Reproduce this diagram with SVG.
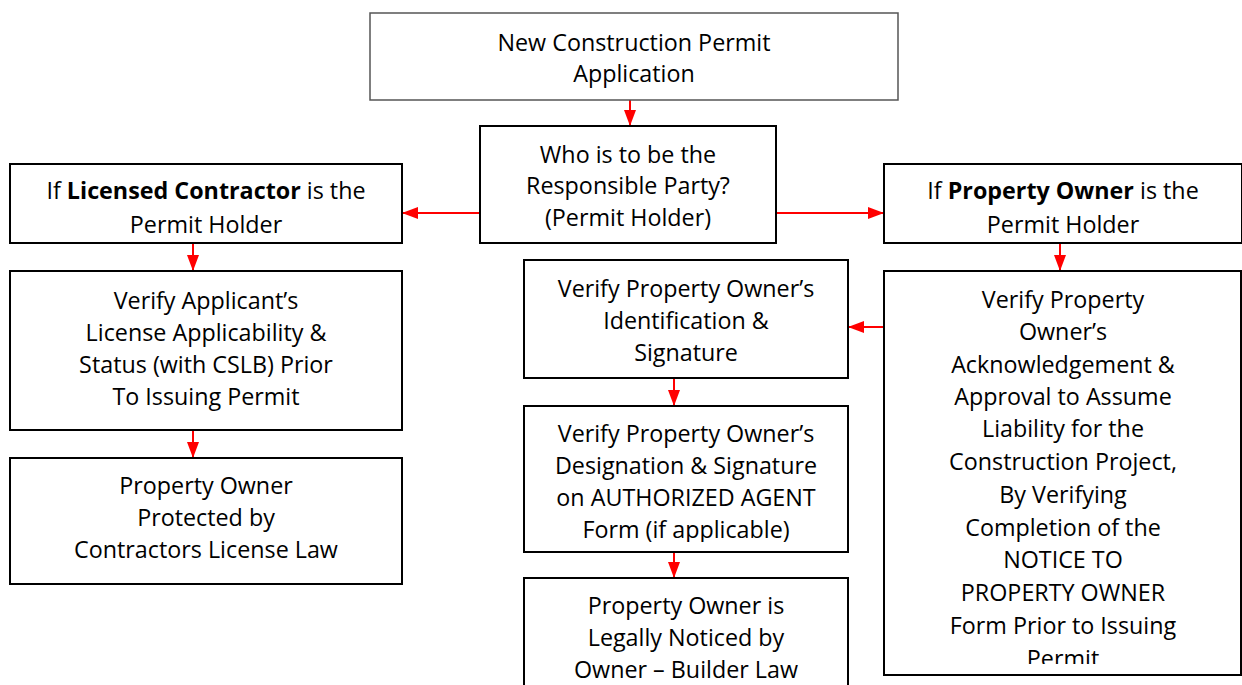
<svg xmlns="http://www.w3.org/2000/svg" width="1242" height="685" viewBox="0 0 1242 685">
<style>
.box{fill:#fff;stroke:#000;stroke-width:2}
.t{font-family:"Open Sans","Liberation Sans",sans-serif;font-size:23.3px;fill:#000;text-anchor:middle}
.b{font-weight:bold}
.c{stroke:#f00;stroke-width:2;fill:none}
</style>
<defs>
<marker id="ah2" markerWidth="16" markerHeight="12" refX="16" refY="6" orient="auto" markerUnits="userSpaceOnUse" viewBox="0 0 16 12">
<path d="M0,0 L16,6 L0,12 z" fill="#f00"/>
</marker>
<clipPath id="clipM4"><rect x="524" y="406" width="324" height="136"/></clipPath>
<clipPath id="clipR2"><rect x="884" y="271" width="358" height="393"/></clipPath>
</defs>
<g id="connectors">
<line class="c" x1="630" y1="100" x2="630" y2="126" marker-end="url(#ah2)"/>
<line class="c" x1="480" y1="213" x2="402" y2="213" marker-end="url(#ah2)"/>
<line class="c" x1="776" y1="213" x2="884" y2="213" marker-end="url(#ah2)"/>
<line class="c" x1="193" y1="243" x2="193" y2="271" marker-end="url(#ah2)"/>
<line class="c" x1="193" y1="430" x2="193" y2="458" marker-end="url(#ah2)"/>
<line class="c" x1="1060" y1="243" x2="1060" y2="271" marker-end="url(#ah2)"/>
<line class="c" x1="884" y1="327" x2="848" y2="327" marker-end="url(#ah2)"/>
<line class="c" x1="674" y1="378" x2="674" y2="406" marker-end="url(#ah2)"/>
<line class="c" x1="674" y1="552" x2="674" y2="578" marker-end="url(#ah2)"/>
</g>
<g id="n1">
<rect class="box" x="370" y="13" width="528" height="87" style="stroke:#555;stroke-width:1.5"/>
<text class="t" x="634" y="51">New Construction Permit</text>
<text class="t" x="634" y="82">Application</text>
</g>
<g id="n2">
<rect class="box" x="480" y="126" width="296" height="117"/>
<text class="t" x="628" y="163">Who is to be the</text>
<text class="t" x="628" y="194">Responsible Party?</text>
<text class="t" x="628" y="226">(Permit Holder)</text>
</g>
<g id="n3">
<rect class="box" x="10" y="164" width="392" height="79"/>
<text class="t" x="206" y="199">If <tspan class="b">Licensed Contractor</tspan> is the</text>
<text class="t" x="206" y="233">Permit Holder</text>
</g>
<g id="n4">
<rect class="box" x="884" y="164" width="358" height="79"/>
<text class="t" x="1063" y="199">If <tspan class="b">Property Owner</tspan> is the</text>
<text class="t" x="1063" y="233">Permit Holder</text>
</g>
<g id="n5">
<rect class="box" x="10" y="271" width="392" height="159"/>
<text class="t" x="206" y="309">Verify Applicant’s</text>
<text class="t" x="206" y="341">License Applicability &amp;</text>
<text class="t" x="206" y="373">Status (with CSLB) Prior</text>
<text class="t" x="206" y="405">To Issuing Permit</text>
</g>
<g id="n6">
<rect class="box" x="10" y="458" width="392" height="126"/>
<text class="t" x="206" y="494">Property Owner</text>
<text class="t" x="206" y="526">Protected by</text>
<text class="t" x="206" y="558">Contractors License Law</text>
</g>
<g id="n7">
<rect class="box" x="524" y="260" width="324" height="118"/>
<text class="t" x="686" y="297">Verify Property Owner’s</text>
<text class="t" x="686" y="329">Identification &amp;</text>
<text class="t" x="686" y="361">Signature</text>
</g>
<g id="n8">
<rect class="box" x="524" y="406" width="324" height="146"/>
<g clip-path="url(#clipM4)">
<text class="t" x="686" y="442">Verify Property Owner’s</text>
<text class="t" x="686" y="474">Designation &amp; Signature</text>
<text class="t" x="686" y="506">on AUTHORIZED AGENT</text>
<text class="t" x="686" y="538">Form (if applicable)</text>
</g>
</g>
<g id="n9">
<rect class="box" x="524" y="578" width="324" height="120"/>
<text class="t" x="686" y="614">Property Owner is</text>
<text class="t" x="686" y="646">Legally Noticed by</text>
<text class="t" x="686" y="678">Owner – Builder Law</text>
</g>
<g id="n10">
<rect class="box" x="884" y="271" width="357" height="404"/>
<g clip-path="url(#clipR2)">
<text class="t" x="1063" y="308">Verify Property</text>
<text class="t" x="1063" y="340">Owner’s</text>
<text class="t" x="1063" y="373">Acknowledgement &amp;</text>
<text class="t" x="1063" y="405">Approval to Assume</text>
<text class="t" x="1063" y="437">Liability for the</text>
<text class="t" x="1063" y="470">Construction Project,</text>
<text class="t" x="1063" y="503">By Verifying</text>
<text class="t" x="1063" y="536">Completion of the</text>
<text class="t" x="1063" y="568">NOTICE TO</text>
<text class="t" x="1063" y="601">PROPERTY OWNER</text>
<text class="t" x="1063" y="634">Form Prior to Issuing</text>
<text class="t" x="1063" y="667">Permit</text>
</g>
</g>
</svg>
